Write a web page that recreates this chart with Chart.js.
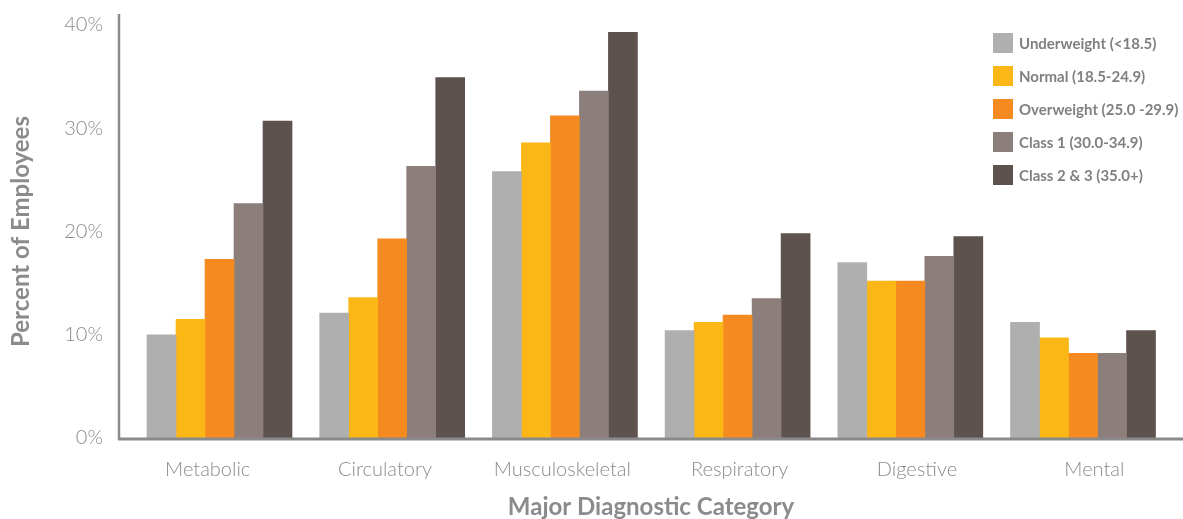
<!DOCTYPE html>
<html>
<head>
<meta charset="utf-8">
<title>Percent of Employees by Major Diagnostic Category</title>
<script src="https://cdn.jsdelivr.net/npm/chart.js@4.4.1/dist/chart.umd.min.js"></script>
<style>
  html, body { margin: 0; padding: 0; background: #ffffff; }
  #wrap { width: 1183px; height: 519px; }
</style>
</head>
<body>
<div id="wrap"><canvas id="chart" width="1183" height="519"></canvas></div>
<script>
// Diagnostic categories along the x axis
const categories = ['Metabolic', 'Circulatory', 'Musculoskeletal', 'Respiratory', 'Digestive', 'Mental'];

// BMI groups (legend labels)
const seriesLabels = [
  'Underweight (<18.5)',
  'Normal (18.5-24.9)',
  'Overweight (25.0 -29.9)',
  'Class 1 (30.0-34.9)',
  'Class 2 & 3 (35.0+)'
];

// Percent of employees per category, one array per BMI group
const underweight = [10.0, 12.1, 25.8, 10.4, 17.0, 11.2];
const normal      = [11.5, 13.6, 28.6, 11.2, 15.2, 9.7];
const overweight  = [17.3, 19.3, 31.2, 11.9, 15.2, 8.2];
const class1      = [22.7, 26.3, 33.6, 13.5, 17.6, 8.2];
const class23     = [30.7, 34.9, 39.3, 19.8, 19.5, 10.4];

// Y axis ticks
const yTicks = [0, 10, 20, 30, 40];

const seriesColors = ['#afafb0', '#fbb715', '#f48a20', '#8c7e7a', '#5e524f'];
const seriesValues = [underweight, normal, overweight, class1, class23];

const axisColor = '#8a8a8a';
const textColor = '#8a8b8d';
const lightFont = 'Lato, "Open Sans", sans-serif';

// Axis lines drawn over the bars: vertical rule at the left of the plot and a full-width baseline
const axisLines = {
  id: 'axisLines',
  afterDatasetsDraw(chart) {
    const ctx = chart.ctx;
    const area = chart.chartArea;
    ctx.save();
    ctx.strokeStyle = axisColor;
    ctx.lineWidth = 2.5;
    ctx.beginPath();
    ctx.moveTo(area.left, 14);
    ctx.lineTo(area.left, area.bottom + 2);
    ctx.stroke();
    ctx.lineWidth = 3;
    ctx.beginPath();
    ctx.moveTo(area.left - 1, area.bottom + 1);
    ctx.lineTo(chart.width, area.bottom + 1);
    ctx.stroke();
    ctx.restore();
  }
};

// Legend block in the upper right, built from the dataset labels and colours
const boxLegend = {
  id: 'boxLegend',
  afterDraw(chart) {
    const ctx = chart.ctx;
    ctx.save();
    ctx.font = 'bold 15px ' + lightFont;
    ctx.textBaseline = 'middle';
    ctx.textAlign = 'left';
    chart.data.datasets.forEach((ds, i) => {
      const y = 33 + i * 33;
      ctx.fillStyle = ds.backgroundColor;
      ctx.fillRect(993, y, 20, 20);
      ctx.fillStyle = '#808080';
      ctx.fillText(ds.label, 1019, y + 11);
    });
    ctx.restore();
  }
};

new Chart(document.getElementById('chart'), {
  type: 'bar',
  data: {
    labels: categories,
    datasets: seriesLabels.map((label, i) => ({
      label: label,
      data: seriesValues[i].map((v, j) => ({ x: j, y: v })),
      backgroundColor: seriesColors[i],
      borderWidth: 0,
      xAxisID: 'x',
      barThickness: 29
    }))
  },
  options: {
    responsive: false,
    devicePixelRatio: 1,
    animation: false,
    layout: { padding: { top: 25, right: 0, left: 0, bottom: 0 } },
    plugins: {
      legend: { display: false },
      tooltip: { enabled: false },
      title: { display: false }
    },
    scales: {
      // Index axis that places the bar groups (not drawn)
      x: {
        type: 'linear',
        min: -0.582,
        max: 5.579,
        offset: false,
        bounds: 'data',
        display: false
      },
      // Category label axis across the full plot width
      xCat: {
        type: 'category',
        position: 'bottom',
        labels: categories,
        offset: true,
        grid: { display: false, drawTicks: false },
        border: { display: false },
        ticks: {
          color: textColor,
          padding: 20,
          font: { family: lightFont, size: 20, weight: 300 }
        },
        title: {
          display: true,
          text: 'Major Diagnostic Category',
          color: textColor,
          padding: { top: 0, bottom: 0 },
          font: { family: lightFont, size: 24, weight: 'bold', lineHeight: 1.0 }
        },
        afterFit(scale) { scale.height = 81; }
      },
      y: {
        min: yTicks[0],
        max: yTicks[yTicks.length - 1],
        grid: { display: false, drawTicks: false },
        border: { display: false },
        afterBuildTicks(scale) { scale.ticks = yTicks.map(v => ({ value: v })); },
        ticks: {
          color: textColor,
          padding: 16,
          callback: v => v + '%',
          font: { family: lightFont, size: 20, weight: 300 }
        },
        title: {
          display: true,
          text: 'Percent of Employees',
          color: textColor,
          padding: { top: 7, bottom: 0 },
          font: { family: lightFont, size: 24, weight: 'bold', lineHeight: 1.2 }
        },
        afterFit(scale) {
          scale.width = 119;
          scale.paddingTop = 12;
          scale.paddingBottom = 12;
        }
      }
    }
  },
  plugins: [axisLines, boxLegend]
});
</script>
</body>
</html>
